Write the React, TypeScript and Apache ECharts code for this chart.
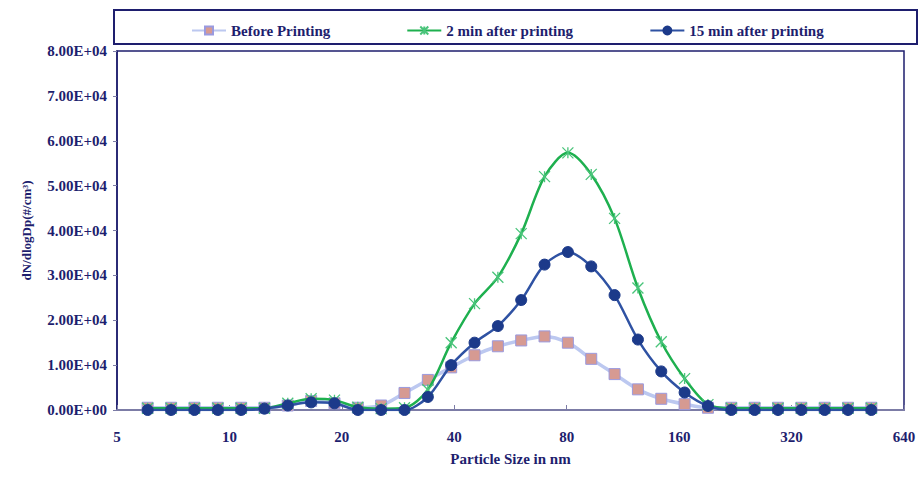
import React, { useEffect, useRef } from "react";
import * as echarts from "echarts";

// Particle size channels (nm), 16 channels per decade
const SIZES = [6.04, 6.98, 8.06, 9.31, 10.75, 12.41, 14.33, 16.55, 19.11, 22.07, 25.48, 29.43, 33.98, 39.24, 45.32, 52.33, 60.43, 69.78, 80.58, 93.06, 107.46, 124.09, 143.3, 165.48, 191.1, 220.7, 254.8, 294.3, 339.8, 392.4, 453.2, 523.3];

const BEFORE = [500, 500, 500, 500, 500, 500, 1000, 2000, 1500, 500, 1000, 3800, 6700, 9500, 12200, 14200, 15500, 16400, 15000, 11400, 8000, 4600, 2500, 1300, 500, 500, 500, 500, 500, 500, 500, 500];
const AFTER_2 = [400, 400, 400, 400, 400, 400, 1500, 2500, 2200, 600, 300, 500, 4500, 15000, 23700, 29600, 39300, 52000, 57300, 52500, 42700, 27200, 15200, 7000, 1200, 400, 400, 400, 400, 400, 400, 400];
const AFTER_15 = [0, 0, 0, 0, 0, 300, 1000, 1700, 1500, 0, 0, 0, 2900, 10000, 15000, 18700, 24500, 32400, 35200, 32000, 25600, 15700, 8600, 3900, 900, 0, 0, 0, 0, 0, 0, 0];

const SERIES_NAMES = ["Before Printing", "2 min after printing", "15 min after printing"];
const X_TICKS = [5, 10, 20, 40, 80, 160, 320, 640];
const X_BASE = 5;

const NAVY = "#1E1E6E";
const FONT = "Liberation Serif";

function fmtExp(v: number): string {
  if (v === 0) return "0.00E+00";
  const e = Math.floor(Math.log10(Math.abs(v)));
  const m = v / Math.pow(10, e);
  const es = (e < 0 ? "-" : "+") + String(Math.abs(e)).padStart(2, "0");
  return m.toFixed(2) + "E" + es;
}

const toX = (d: number) => Math.log2(d / X_BASE);

export default function App() {
  const ref = useRef<HTMLDivElement>(null);
  useEffect(() => {
    if (!ref.current) return;
    const chart = echarts.init(ref.current, null, { renderer: "svg" });
    const mk = (vals: number[]) => SIZES.map((d, i) => [toX(d), vals[i]]);
    chart.setOption({
      animation: false,
      backgroundColor: "#ffffff",
      grid: {
        left: 117,
        right: 20,
        top: 51,
        bottom: 67,
        show: true,
        borderColor: NAVY,
        borderWidth: 1.5,
        backgroundColor: "transparent",
      },
      legend: {
        left: 186,
        top: 18,
        itemGap: 76,
        itemWidth: 34,
        itemHeight: 10,
        textStyle: { fontFamily: FONT, fontWeight: "bold", fontSize: 15, color: NAVY },
        data: SERIES_NAMES,
      },
      graphic: [
        {
          type: "rect",
          shape: { x: 114, y: 10, width: 803, height: 34 },
          style: { fill: "none", stroke: NAVY, lineWidth: 2 },
          silent: true,
        },
      ],
      xAxis: {
        type: "value",
        min: 0,
        max: X_TICKS.length - 1,
        interval: 1,
        name: "Particle Size in nm",
        nameLocation: "middle",
        nameGap: 41,
        nameTextStyle: { fontFamily: FONT, fontWeight: "bold", fontSize: 15, color: NAVY },
        axisLine: { show: true, lineStyle: { color: "#7C7CA6", width: 2 } },
        axisTick: { show: true, inside: true, length: 5, lineStyle: { color: "#7C7CA6" } },
        axisLabel: {
          fontFamily: FONT,
          fontWeight: "bold",
          fontSize: 15,
          color: NAVY,
          margin: 19,
          formatter: (v: number) => String(X_TICKS[Math.round(v)] ?? ""),
        },
        splitLine: { show: false },
      },
      yAxis: {
        type: "value",
        min: 0,
        max: 80000,
        interval: 10000,
        name: "dN/dlogDp(#/cm³)",
        nameLocation: "middle",
        nameGap: 84,
        nameRotate: 90,
        nameTextStyle: { fontFamily: FONT, fontWeight: "bold", fontSize: 13, color: NAVY },
        axisLine: { show: true, lineStyle: { color: NAVY, width: 1.5 } },
        axisTick: { show: true, length: 4, lineStyle: { color: "#7C7CA6" } },
        axisLabel: {
          fontFamily: FONT,
          fontWeight: "bold",
          fontSize: 15,
          color: NAVY,
          margin: 10,
          formatter: (v: number) => fmtExp(v),
        },
        splitLine: { show: false },
      },
      series: [
        {
          name: SERIES_NAMES[0],
          type: "line",
          data: mk(BEFORE),
          smooth: 0.3,
          symbol: "rect",
          symbolSize: 11,
          lineStyle: { color: "#BCC8F0", width: 3.5 },
          itemStyle: { color: "#D69A92", borderColor: "#9A9ADF", borderWidth: 1 },
          z: 2,
        },
        {
          name: SERIES_NAMES[1],
          type: "line",
          data: mk(AFTER_2),
          smooth: 0.3,
          symbol: "path://M0,0L10,10M10,0L0,10M5,0L5,10",
          symbolSize: 11,
          lineStyle: { color: "#1EB04F", width: 2.5 },
          itemStyle: { color: "#1EB04F", borderColor: "#49C47A", borderWidth: 1.3 },
          z: 3,
        },
        {
          name: SERIES_NAMES[2],
          type: "line",
          data: mk(AFTER_15),
          smooth: 0.3,
          symbol: "circle",
          symbolSize: 11,
          lineStyle: { color: "#2F52A3", width: 2.5 },
          itemStyle: { color: "#1C3A8A", borderColor: "#1C3A8A", borderWidth: 1 },
          z: 4,
        },
      ],
    });
    return () => chart.dispose();
  }, []);
  return (
    <div
      ref={ref}
      style={{ position: "absolute", left: 0, top: 0, width: 924, height: 477 }}
    />
  );
}
